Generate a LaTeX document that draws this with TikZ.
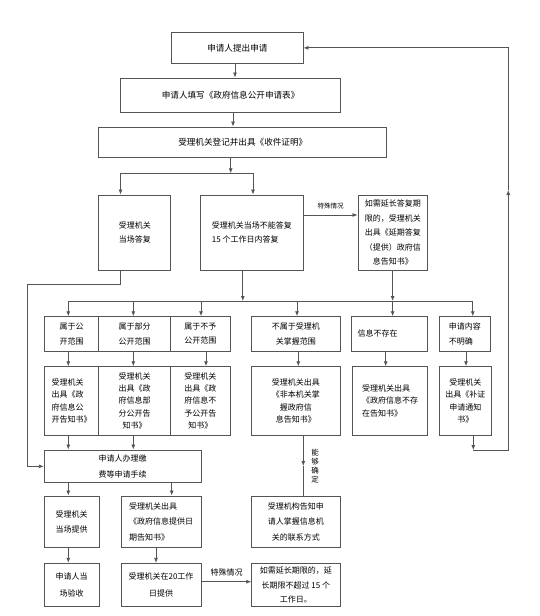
\documentclass[tikz,border=0pt]{standalone}
\usepackage{fontspec}
\newfontfamily\cjk{Noto Sans CJK SC}
\usetikzlibrary{arrows.meta}
\definecolor{linec}{RGB}{85,85,85}
\newcommand{\mkbox}[7][]{%
  \node[box,minimum width={#5-#3},minimum height={#6-#4},#1] (#2) at ({(#3+#5)/2},{(#4+#6)/2}) {#7};}
\tikzset{
  box/.style={draw=linec,line width=0.9pt,inner sep=1pt,text=black,align=center,
              font=\cjk\fontsize{8}{12.3}\selectfont},
  big/.style={font=\cjk\fontsize{8.6}{12}\selectfont},
  tall/.style={font=\cjk\fontsize{8}{14.5}\selectfont},
  mid/.style={font=\cjk\fontsize{8}{15.5}\selectfont},
  conn/.style={draw=linec,line width=0.8pt},
  arr/.style={conn,-{Latex[length=5pt,width=4pt]}},
  lbl/.style={inner sep=0pt,text=black}
}
\begin{document}
\begin{tikzpicture}[x=1pt,y=-1pt]
\fill[white] (0,0) rectangle (540,616);
\useasboundingbox (0,0) rectangle (540,616);

% top chain
\mkbox[big]{n1}{171.7}{32.7}{303}{63}{申请人提出申请}
\mkbox[big]{n2}{120.5}{78}{340.7}{112}{申请人填写《政府信息公开申请表》}
\mkbox[big]{n3}{98.8}{127}{386.7}{157}{受理机关登记并出具《收件证明》}

% second level
\mkbox[tall]{A}{98.8}{195}{170.8}{270}{受理机关\\当场答复}
\mkbox[tall,align=left]{B}{200.8}{195}{303}{270}{受理机关当场不能答复\\15 个工作日内答复}
\mkbox[tall]{C}{358}{195}{427.7}{270}{如需延长答复期\\限的，受理机关\\出具《延期答复\\（提供）政府信\\息告知书》}

% row 1
\mkbox[tall]{r1a}{44.3}{316.7}{98.7}{351}{属于公\\开范围}
\mkbox[tall]{r1b}{98.7}{316.7}{170.7}{351}{属于部分\\公开范围}
\mkbox[tall]{r1c}{170.7}{316.7}{230}{351}{属于不予\\公开范围}
\mkbox[tall]{r1d}{251.7}{316.7}{340}{351}{不属于受理机\\关掌握范围}
\mkbox[text width=64pt,align=left]{r1e}{351.7}{316.7}{427.7}{351}{信息不存在}
\mkbox[tall,align=left]{r1f}{439}{316.7}{490.7}{351}{申请内容\\不明确}

% row 2
\mkbox[align=left]{r2a}{44.3}{366.7}{98.7}{435}{受理机关\\出具《政\\府信息公\\开告知书》}
\mkbox{r2b}{98.7}{366.7}{170.7}{435}{受理机关\\出具《政\\府信息部\\分公开告\\知书》}
\mkbox{r2c}{170.7}{366.7}{230}{435}{受理机关\\出具《政\\府信息不\\予公开告\\知书》}
\mkbox{r2d}{251.7}{366.7}{340}{435}{受理机关出具\\《非本机关掌\\握政府信\\息告知书》}
\mkbox[align=left]{r2e}{352.3}{366.7}{427.7}{435}{受理机关出具\\《政府信息不存\\在告知书》}
\mkbox{r2f}{439}{366.7}{491.7}{435}{受理机关\\出具《补证\\申请通知\\书》}

% lower part
\mkbox[mid]{pay}{44.3}{450}{201}{482.7}{申请人办理缴\\费等申请手续}
\mkbox[tall]{p1}{44.3}{496}{99}{547.7}{受理机关\\当场提供}
\mkbox[mid,align=left]{p2}{121}{496}{201}{547.7}{受理机关出具\\《政府信息提供日\\期告知书》}
\mkbox[font=\cjk\fontsize{8}{16.5}\selectfont]{q1}{44.3}{563.3}{99}{606.7}{申请人当\\场验收}
\mkbox[font=\cjk\fontsize{8}{16.5}\selectfont]{q2}{121}{563.3}{201}{606.7}{受理机关在20工作\\日提供}
\mkbox[mid]{k1}{251.7}{496}{340}{547.7}{受理机构告知申\\请人掌握信息机\\关的联系方式}
\mkbox[font=\cjk\fontsize{8}{14.2}\selectfont]{k2}{251.7}{563.3}{340}{606.7}{如需延长期限的，延\\长期限不超过 15 个\\工作日。}

% helper coordinates
\coordinate (c12) at (235,0);
\coordinate (c23) at (233,0);
\coordinate (j0) at (230.7,173.3);
\coordinate (jl) at (120.5,173.3);
\coordinate (jr) at (253,173.3);
\coordinate (yBC) at (0,215);
\coordinate (xB) at (242.8,301);
\coordinate (xC) at (392.6,301);
\coordinate (busL) at (68.3,301);
\coordinate (busR) at (472.8,301);
\coordinate (ba) at (68.3,301);
\coordinate (bb) at (133.3,301);
\coordinate (bc) at (201,301);
\coordinate (bd) at (297,301);
\coordinate (bf) at (472.8,301);
\coordinate (va) at (68.3,0);
\coordinate (vb) at (133.3,0);
\coordinate (vc) at (206,0);
\coordinate (vd) at (298.3,0);
\coordinate (ve) at (385.7,0);
\coordinate (vf) at (466,0);
\coordinate (vp2) at (171.7,0);
\coordinate (vq2) at (156,0);
\coordinate (bend1) at (120.5,284);
\coordinate (bend2) at (27,284);
\coordinate (mk) at (303.3,466);
\coordinate (yq) at (0,581.7);
\coordinate (fb1) at (473.3,450);
\coordinate (fb2) at (508.3,450);
\coordinate (fb3) at (508.3,190);

% connectors top
\draw[arr] (n1.south -| c12) -- (n2.north -| c12);
\draw[arr] (n2.south -| c23) -- (n3.north -| c23);
\draw[arr] (n3.south -| j0) -- (j0);
\draw[conn] (jl) -- (jr);
\draw[arr] (jl) -- (A.north -| jl);
\draw[arr] (jr) -- (B.north -| jr);
\draw[arr] (B.east |- yBC) -- (C.west |- yBC);
\node[lbl,font=\cjk\fontsize{6.5}{7}\selectfont] (t1) at (330.6,206) {特殊情况};

% bus
\draw[conn] (busL) -- (busR);
\draw[arr] (B.south -| xB) -- (xB);
\draw[arr] (C.south -| xC) -- (xC);
\draw[arr] (xC) -- (r1e.north -| xC);
\draw[arr] (ba) -- (r1a.north -| ba);
\draw[arr] (bb) -- (r1b.north -| bb);
\draw[arr] (bc) -- (r1c.north -| bc);
\draw[arr] (bd) -- (r1d.north -| bd);
\draw[arr] (bf) -- (r1f.north -| bf);

% row1 -> row2
\draw[arr] (r1a.south -| va) -- (r2a.north -| va);
\draw[arr] (r1b.south -| vb) -- (r2b.north -| vb);
\draw[arr] (r1c.south -| vc) -- (r2c.north -| vc);
\draw[arr] (r1d.south -| vd) -- (r2d.north -| vd);
\draw[arr] (r1e.south -| ve) -- (r2e.north -| ve);
\draw[arr] (r1f.south -| vf) -- (r2f.north -| vf);

% lower left
\draw[arr] (r2a.south -| va) -- (pay.north -| va);
\draw[arr] (r2b.south -| vb) -- (pay.north -| vb);
\draw[arr] (A.south -| bend1) -- (bend1) -- (bend2) |- (pay.west);
\draw[arr] (pay.south -| va) -- (p1.north -| va);
\draw[arr] (pay.south -| vp2) -- (p2.north -| vp2);
\draw[arr] (p1.south -| va) -- (q1.north -| va);
\draw[arr] (p2.south -| vq2) -- (q2.north -| vq2);
\draw[arr] (q2.east |- yq) -- (k2.west |- yq);
\node[lbl,font=\cjk\fontsize{8}{9}\selectfont] (t3) at (226.5,572.7) {特殊情况};

% 能够确定
\draw[arr] (r2d.south -| mk) -- (mk);
\draw[conn] (mk) -- (k1.north -| mk);
\node[lbl,align=center,font=\cjk\fontsize{7.5}{9.2}\selectfont] (t2) at (315,466) {能\\够\\确\\定};

% feedback loop
\draw[arr] (r2f.south -| fb1) -- (fb1);
\draw[arr] (fb1) -- (fb2) -- (fb3);
\draw[arr] (fb3) |- (n1.east);
\end{tikzpicture}
\end{document}
